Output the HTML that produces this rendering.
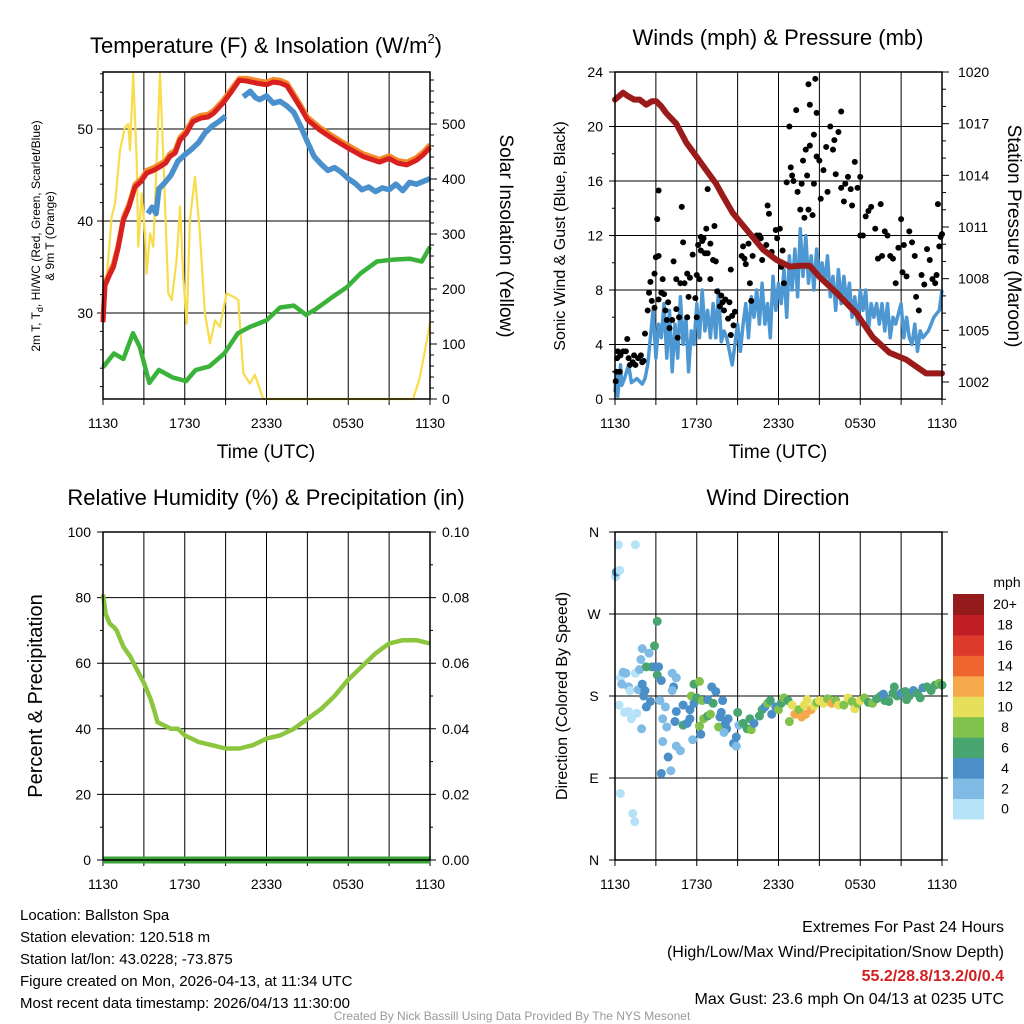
<!DOCTYPE html>
<html><head><meta charset="utf-8"><style>
html,body{margin:0;padding:0;background:#fff;}
svg{display:block;font-family:"Liberation Sans",sans-serif;}
</style></head><body>
<svg id="c" width="1024" height="1024" viewBox="0 0 1024 1024" xmlns="http://www.w3.org/2000/svg"></svg>
<script>
// ---------- DATA ----------
const xTickLabels = ["1130","1730","2330","0530","1130"];
const tempTicks = [30,40,50];
const solarTicks = [0,100,200,300,400,500];
const windTicks = [0,4,8,12,16,20,24];
const presTicks = [1002,1005,1008,1011,1014,1017,1020];
const rhTicks = [0,20,40,60,80,100];
const precTicks = ["0.00","0.02","0.04","0.06","0.08","0.10"];
const dirLabels = ["N","W","S","E","N"];
const speedBins = ["0","2","4","6","8","10","12","14","16","18","20+"];
const speedColors = ["#b5e2f7","#7fbbe4","#4a8fc7","#49a56f","#80c24b","#e6df5a","#f5a94a","#ee6530","#dd3a2b","#c01f26","#951a1c"];

const tempHours = [0,0.15,0.5,0.76,1.1,1.5,1.9,2.35,2.8,3.2,3.7,4.18,4.6,4.9,5.3,5.65,6.1,6.6,7.2,7.7,8.1,8.8,9.4,10,10.6,11.2,12,12.5,13,13.5,14,14.5,15,15.9,16.8,17.9,19.1,20.3,21,21.6,22.3,23,23.5,24];
const tempVals = [29,33,34.2,35,37,40.1,41.5,43.7,44.3,45.2,45.5,45.9,46.3,47,47.4,48.8,49.5,50.8,51.2,51.3,51.7,52.8,54,55.3,55.2,55,54.8,55.1,55,54.7,53.5,52.3,51,49.9,49,48,47,46.4,46.8,46.3,46.1,46.6,47.2,48];
const temp9mVals = [29.3,33.3,34.5,35.3,37.3,40.4,41.8,44,44.6,45.5,45.8,46.2,46.6,47.3,47.7,49.1,49.8,51.1,51.5,51.6,52,53.1,54.3,55.5,55.5,55.3,55.1,55.4,55.3,55,53.8,52.6,51.3,50.2,49.3,48.3,47.3,46.7,47.1,46.6,46.4,46.9,47.5,48.3];
const hiHours = [3.3,3.6,3.9,4.1,4.5,5,5.5,6,6.5,7,7.5,8,8.5,9];
const hiVals = [40.8,41.5,40.8,43.5,44.1,45,46.5,47.2,47.8,48.5,49.6,50.3,50.8,51.4];
const hi2Hours = [10.3,10.8,11.2,11.5,12,12.5,13,13.5,14,14.5,15,15.5,16,16.5,17,17.5,18,18.5,19,19.5,20,20.5,21,21.5,22,22.5,23,23.5,24];
const hi2Vals = [53.5,54.1,53.4,53.2,53.6,52.8,53,52.5,51.8,50.3,48.6,47,46.2,45.5,45.8,45.3,44.6,44.1,43.4,43.7,43.2,43.6,43.4,44,43.3,44.2,44,44.3,44.6];
const tdHours = [0,0.8,1.5,2.2,2.7,3.4,4.1,5.1,6.1,6.8,7.8,8.9,9.9,10.8,12,13,14,14.9,15.6,16.8,17.9,18.9,20.1,21.3,22.5,23.4,24];
const tdVals = [24.1,25.6,25,27.8,26.3,22.4,23.8,23,22.6,23.8,24.2,25.6,27.8,28.5,29.2,30.6,30.8,29.8,30.4,31.7,32.8,34.3,35.6,35.8,35.9,35.6,37.2];
const solHours = [0,0.27,0.64,0.88,1.25,1.61,1.86,1.98,2.22,2.47,2.59,2.84,3.08,3.2,3.45,3.69,4.18,4.43,4.79,5.04,5.4,5.65,5.89,6.14,6.38,6.75,7.11,7.48,7.85,8.22,8.58,9.07,9.56,9.93,10.3,10.78,11.15,11.76,22.76,23.25,23.86,24];
const solVals = [192,222,331,355,452,494,500,452,592,434,277,374,301,228,301,277,592,434,192,180,253,350,222,137,325,404,301,156,101,143,131,192,186,180,47,28,44,0,0,39,119,140];

const windHours = [0,0.1,0.2,0.4,0.5,0.7,1,1.2,1.6,2,2.2,2.4,2.6,2.8,3,3.2,3.4,3.6,3.8,4,4.2,4.4,4.6,4.8,5,5.2,5.4,5.6,5.8,6,6.2,6.4,6.6,6.8,7,7.2,7.4,7.6,7.8,8,8.2,8.6,8.8,9,9.2,9.4,9.6,9.8,10,10.2,10.4,10.6,10.8,11,11.2,11.4,11.6,11.8,12,12.2,12.4,12.6,12.8,13,13.2,13.4,13.6,13.8,14,14.2,14.4,14.6,14.8,15,15.2,15.4,15.6,15.8,16,16.2,16.4,16.6,16.8,17,17.2,17.4,17.6,17.8,18,18.2,18.4,18.6,18.8,19,19.2,19.4,19.6,19.8,20,20.2,20.4,20.6,21,21.2,21.4,21.6,21.8,22,22.2,22.4,22.6,23,23.4,23.8,24];
const windVals = [0.5,2,0.2,2.5,1,1.5,2.5,1.2,1.5,1.1,1.5,2.5,4.5,6.5,3,5.5,4.5,7,3,6.5,2,5.5,3,7.5,4,6,2,5,4,7,4.5,8,5,6.5,4.5,7,4.5,8,4.2,5,4.5,2.5,4,5.5,3.5,5.5,7,4.5,7.5,6,8,5.5,8.5,5.5,7,4.5,9,6.5,8.5,7,9.5,6,10.5,8,11,7.5,12.5,9,12,8.5,10.5,8,11,9,10,8.5,10.5,7.5,9,6.5,9.5,7,9,7,8.5,6,7.5,5.5,8,6.5,8,5,7,6,7,5.5,7,5,7,4.5,6,5.5,7,4.5,6,4.5,4,5.5,3.5,5,4.5,5,6,6.5,8];
const gustHours = [0.05,0.1,0.15,0.2,0.35,0.4,0.6,0.8,0.9,1,1.1,1.3,1.4,1.5,1.7,1.9,2,2.1,2.2,2.4,2.5,2.6,2.7,2.9,2.9,3,3.2,3.2,3.1,3.2,3.4,3.5,3.6,3.7,3.8,3.9,4,4.2,4.3,4.5,4.6,4.5,4.7,4.8,4.9,5,5.1,5.3,5.4,5.5,5.3,5.7,5.9,6,6,6.1,6.2,6.3,6.3,6.4,6.5,6.6,6.7,6.8,6.8,7,7,7.2,7.3,7.4,7.5,7.7,7.8,7.9,8,8.1,8.3,8.4,8.5,8.6,8.7,8.8,8.5,9.3,9.4,9.5,9.6,9.8,9.9,10,10.1,10.3,10.4,10.6,10.7,10.8,11.1,11.2,11.3,11.5,11.8,11.9,12.1,12.2,12.3,12.4,12.6,12.8,12.9,13,13.1,13.4,13.3,13.6,13.7,13.8,13.9,14,14.1,14.2,14.2,14.3,14.3,14.5,14.6,14.8,14.7,14.6,14.8,15,15.1,15.3,15.5,15.6,15.8,16,16.1,16.2,16.4,16.6,16.8,16.6,16.9,17.1,17.3,17.4,17.6,17.8,18,18,18.2,18.4,18.6,18.8,19.1,19.3,19.5,19.6,19.8,20,20.2,20.4,20.6,20.8,21,21.1,21.2,21.4,21.6,21.8,22,22.1,22.3,22.5,22.7,22.9,23.1,23.3,23.5,23.6,23.7,23.8,23.9,24];
const gustVals = [1.3,2,3,3.5,2,3.2,3.5,3.5,4.4,3,2.5,2.7,3.2,2.5,3,3.2,2.7,2.8,4.8,6.5,7.8,8.6,7.2,6.7,9.2,10.4,10.5,7.3,13.2,15.3,7.8,8.8,7.7,6.5,5.8,7.1,5.2,5.8,10.1,8.8,4.5,6.6,6,8.5,14.1,11.5,8.5,9.2,7.5,8.9,6,10.6,7.4,6,9.1,11.3,8.8,11.9,10.9,11.6,11.8,10.7,12.5,10.7,15.4,11.4,8.8,10.2,12.7,10.1,7.9,6.8,7.6,7.1,6.5,7.3,5.9,7.1,4.7,6.1,5.4,6.4,9.5,10.5,11.2,10.3,9.9,11.4,8.5,7.2,10.5,11.8,12,12,11.8,10.2,11.3,14.2,13.6,10.8,12.4,11.8,12.5,9.7,10.9,8.5,15.9,20,17,16.4,16,15.2,21.2,13.9,15.8,17.5,13.3,18.3,16.4,13.9,23.1,18.6,21.6,13.5,15.8,17.8,23.5,19.4,21,17.5,14.7,16.8,18.5,15.2,20,18.3,19,16.5,19.6,15.5,14.5,21.1,15.8,16.3,15.4,14.2,17.4,15.5,16.3,12,12,13.4,13.8,14.1,12.5,10.3,14.3,10.5,12.3,12,10.5,10.3,8.5,11.1,13.2,9.3,11.3,9,12.3,11.5,10.5,7.5,6.5,9.1,8.4,11,10.2,8.8,8.5,9.1,14.3,11.2,11.9,12.1];
const presHours = [0,0.3,0.59,0.95,1.4,1.81,2.3,2.7,3.03,3.4,3.77,4.5,5.23,5.97,6.7,7.43,7.92,8.65,9.39,10.12,10.85,11.83,12.81,13.6,14.28,15.01,16.23,17.7,18.92,20.15,21.37,22.1,22.83,24];
const presVals = [1018.4,1018.6,1018.8,1018.6,1018.4,1018.4,1018.1,1018.3,1018.3,1018,1017.6,1017,1015.9,1015.1,1014.3,1013.5,1012.8,1011.8,1011.1,1010.4,1009.7,1009.1,1008.7,1008.75,1008.75,1008.1,1007.2,1006,1004.6,1003.7,1003.3,1002.9,1002.5,1002.5];

const rhHours = [0,0.1,0.2,0.5,0.8,1,1.2,1.5,2,2.5,3,3.5,3.8,4,4.5,5,5.5,6,7,8,9,10,11,12,13,14,15,16,17,18,19,20,21,22,23,24];
const rhVals = [81,78,75,72,71,70,68,65,62,58,54,49,45,42,41,40,40,38,36,35,34,34,35,37,38,40,43,46,50,55,59,63,66,67,67,66];
const precHours = [0,24];
const precVals = [0,0];

const dirHours = [0.05,0.1,0.25,0.35,1.5,0.4,1.3,1.45,0.4,0.5,0.6,0.8,1.0,0.3,0.7,1.0,1.2,1.1,1.6,1.5,1.8,1.9,2.0,1.7,2.1,2.2,2.3,2.0,2.6,2.7,2.9,2.9,3.1,3.1,2.5,2.3,1.95,3.2,3.4,3.7,3.3,3.5,3.8,3.9,4.2,4.3,4.2,4.5,3.5,4.5,4.8,3.4,4.1,4.4,4.5,5.0,5.0,5.3,5.5,5.5,5.6,5.8,5.8,6.0,6.2,6.2,6.4,6.5,6.8,6.8,6.3,5.7,7.1,7.4,7.0,7.2,7.7,7.6,7.8,7.9,8.1,8.2,8.0,8.7,8.9,8.9,8.3,9.1,9.0,9.4,9.7,10.0,9.9,10.2,10.6,10.8,11.0,11.2,11.4,11.5,11.8,12.0,12.2,12.4,12.7,13.0,13.2,12.8,13.5,13.7,13.9,14.1,14.0,14.4,14.6,14.8,15.0,15.3,15.6,15.9,16.2,16.4,16.8,17.1,17.4,17.6,17.8,18.0,18.3,18.6,18.9,19.2,19.5,19.8,20.1,20.4,20.7,21.0,21.3,21.6,21.9,22.2,22.6,22.9,23.2,23.5,23.8,24.0,22.4,21.4,20.5,19.7];
const dirVals = [311,316,346,318,346,73,51,42,200,193,206,205,190,170,162,163,155,186,161,205,209,220,232,187,180,186,168,193,174,212,212,235,203,262,227,212,144,212,197,168,175,155,146,113,205,190,186,200,130,125,120,95,98,152,163,170,148,150,155,165,180,172,193,178,147,196,175,155,158,176,138,132,190,185,160,172,157,146,162,175,150,144,140,128,135,125,155,148,162,150,144,143,155,150,158,165,168,172,175,160,168,165,172,178,175,170,160,152,165,157,170,176,160,165,169,173,175,172,177,172,175,170,170,178,174,166,172,175,178,173,172,177,180,175,174,183,180,183,185,180,186,183,189,190,186,192,194,192,178,176,190,182];
const dirSpeeds = [1,5,1,1,1,1,1,1,1,3,3,3,3,1,1,1,1,1,1,1,3,3,3,3,5,5,5,5,5,7,5,7,7,7,3,7,3,5,5,3,3,3,3,5,3,5,3,3,3,3,3,5,3,5,5,5,7,5,5,5,9,5,7,7,9,9,9,9,7,5,5,3,5,5,9,7,5,9,5,5,5,5,3,5,5,3,5,3,7,7,7,9,7,5,7,7,5,9,7,5,5,9,7,9,7,11,13,9,9,13,11,11,13,13,11,9,11,11,9,13,9,11,9,11,9,11,9,11,9,7,9,7,7,7,7,7,7,5,7,7,5,7,5,7,7,7,9,7,7,7,7,5];

// ---------- helpers ----------
const svg = document.getElementById('c');
const NS = 'http://www.w3.org/2000/svg';
function mk(tag, attrs, parent, text){
  const e = document.createElementNS(NS, tag);
  for (const k in attrs) e.setAttribute(k, attrs[k]);
  if (text !== undefined) e.textContent = text;
  (parent || svg).appendChild(e);
  return e;
}
function lin(d0,d1,r0,r1){ return v => r0 + (v-d0)*(r1-r0)/(d1-d0); }
function pathFrom(xs, ys, sx, sy){
  return xs.map((h,i)=>(i?'L':'M')+sx(h).toFixed(1)+','+sy(ys[i]).toFixed(1)).join('');
}

function panel(L,R,T,B,name){
  const g = mk('g',{});
  
  
  const sx = lin(0,24,L,R);
  for (let h=3; h<24; h+=3){
    const gl = mk('line',{x1:sx(h),x2:sx(h),y1:T,y2:B,stroke:'#000','stroke-width':1},g);
    
    
  }
  for (let i=0;i<=8;i++){
    mk('line',{x1:sx(i*3),x2:sx(i*3),y1:B,y2:B+6,stroke:'#000','stroke-width':1},g);
  }
  xTickLabels.forEach((t,i)=>{
    const tx = mk('text',{x:sx(i*6),y:B+29,'font-size':14,'text-anchor':'middle'},g,t);
    
    
  });
  return {g,sx};
}
function frame(L,R,T,B,g){
  const f = mk('rect',{x:L,y:T,width:R-L,height:B-T,fill:'none',stroke:'#000','stroke-width':1.5},g);
  
  
}
function text(x,y,s,size,attrs,name){
  const a = Object.assign({x:x,y:y,'font-size':size},attrs||{});
  const t = mk('text',a,svg,s);
  
  
  return t;
}

// ---------- Panel 1: temperature ----------
(function(){
  const L=103,R=430,T=72,B=399;
  const {g,sx} = panel(L,R,T,B,'temperature-panel');
  const sy = lin(50,40,129,221);
  const sr = lin(0,500,399,124);
  tempTicks.forEach(v=>{
    mk('line',{x1:L-6,x2:R,y1:sy(v),y2:sy(v),stroke:'#000','stroke-width':1},g);
    text(L-10,sy(v)+5,String(v),14,{'text-anchor':'end'},'y-tick-label');
  });
  for (let v=22; v<=56; v+=2) mk('line',{x1:L-3,x2:L,y1:sy(v),y2:sy(v),stroke:'#000'},g);
  solarTicks.forEach(v=>{
    mk('line',{x1:R,x2:R+7,y1:sr(v),y2:sr(v),stroke:'#000'},g);
    text(R+12,sr(v)+5,String(v),14,{},'right-tick-label');
  });
  for (let v=20; v<=580; v+=20) if (v%100) mk('line',{x1:R,x2:R+4,y1:sr(v),y2:sr(v),stroke:'#000'},g);
  const sol = mk('path',{d:pathFrom(solHours,solVals,sx,sr),fill:'none',stroke:'#f8dc4a','stroke-width':2.2,'stroke-linejoin':'round'},g);
  
  
  const td = mk('path',{d:pathFrom(tdHours,tdVals,sx,sy),fill:'none',stroke:'#3bb33b','stroke-width':4.5,'stroke-linejoin':'round'},g);
  
  
  [[hiHours,hiVals],[hi2Hours,hi2Vals]].forEach(p=>{
    const hi = mk('path',{d:pathFrom(p[0],p[1],sx,sy),fill:'none',stroke:'#4a90cc','stroke-width':5.5,'stroke-linejoin':'round'},g);
    
    
  });
  const t9 = mk('path',{d:pathFrom(tempHours,temp9mVals,sx,sy),fill:'none',stroke:'#f58a2a','stroke-width':5,'stroke-linejoin':'round'},g);
  
  
  const t2 = mk('path',{d:pathFrom(tempHours,tempVals,sx,sy),fill:'none',stroke:'#d7201f','stroke-width':5,'stroke-linejoin':'round'},g);
  
  
  frame(L,R,T,B,g);
})();
text(266,53,'',22,{'text-anchor':'middle'},'temperature-title').innerHTML='Temperature (F) &amp; Insolation (W/m<tspan font-size="13" dy="-10">2</tspan><tspan dy="10">)</tspan>';
text(0,0,'',12,{transform:'translate(40,236) rotate(-90)','text-anchor':'middle'},'temperature-y-title-line1').innerHTML='2m T, T<tspan font-size="9" dy="3">d</tspan><tspan dy="-3">, HI/WC (Red, Green, Scarlet/Blue)</tspan>';
text(0,0,'& 9m T (Orange)',12,{transform:'translate(54,236) rotate(-90)','text-anchor':'middle'},'temperature-y-title-line2');
text(0,0,'Solar Insolation (Yellow)',19,{transform:'translate(500,236) rotate(90)','text-anchor':'middle'},'solar-y-title');
text(266,458,'Time (UTC)',19,{'text-anchor':'middle'},'x-axis-title');

// ---------- Panel 2: winds ----------
(function(){
  const L=615,R=942,T=72,B=399;
  const {g,sx} = panel(L,R,T,B,'winds-panel');
  const sy = lin(0,24,B,T);
  const sp = lin(1002,1020,382,72);
  windTicks.forEach(v=>{
    mk('line',{x1:L-6,x2:R,y1:sy(v),y2:sy(v),stroke:'#000','stroke-width':1},g);
    text(L-12,sy(v)+5,String(v),14,{'text-anchor':'end'},'y-tick-label');
  });
  for (let v=2; v<24; v+=4) mk('line',{x1:L-3,x2:L,y1:sy(v),y2:sy(v),stroke:'#000'},g);
  for (let v=1001; v<=1020; v++){
    const maj = presTicks.indexOf(v)>=0;
    mk('line',{x1:R,x2:R+(maj?7:4),y1:sp(v),y2:sp(v),stroke:'#000'},g);
  }
  presTicks.forEach(v=> text(R+16,sp(v)+5,String(v),14,{},'right-tick-label'));
  const wl = mk('path',{d:pathFrom(windHours,windVals,sx,sy),fill:'none',stroke:'#4d97d3','stroke-width':3.5,'stroke-linejoin':'round'},g);
  
  
  gustHours.forEach((h,i)=>{
    const c = mk('circle',{cx:sx(h),cy:sy(gustVals[i]),r:3,fill:'#000'},g);
    
    
  });
  const pl = mk('path',{d:pathFrom(presHours,presVals,sx,sp),fill:'none',stroke:'#9b1b1b','stroke-width':6,'stroke-linejoin':'round','stroke-linecap':'round'},g);
  
  
  frame(L,R,T,B,g);
})();
text(778,45,'Winds (mph) & Pressure (mb)',22,{'text-anchor':'middle'},'winds-title');
text(0,0,'Sonic Wind & Gust (Blue, Black)',16,{transform:'translate(565,236) rotate(-90)','text-anchor':'middle'},'wind-y-title');
text(0,0,'Station Pressure (Maroon)',19,{transform:'translate(1008,236) rotate(90)','text-anchor':'middle'},'pressure-y-title');
text(778,458,'Time (UTC)',19,{'text-anchor':'middle'},'x-axis-title');

// ---------- Panel 3: RH ----------
(function(){
  const L=103,R=430,T=532,B=860;
  const {g,sx} = panel(L,R,T,B,'humidity-panel');
  const sy = lin(0,100,B,T);
  rhTicks.forEach((v,i)=>{
    mk('line',{x1:L-6,x2:R+6,y1:sy(v),y2:sy(v),stroke:'#000','stroke-width':1},g);
    text(L-12,sy(v)+5,String(v),14,{'text-anchor':'end'},'y-tick-label');
    text(R+12,sy(v)+5,precTicks[i],14,{},'right-tick-label');
  });
  for (let v=10; v<100; v+=20){
    mk('line',{x1:L-3,x2:L,y1:sy(v),y2:sy(v),stroke:'#000'},g);
    mk('line',{x1:R,x2:R+3,y1:sy(v),y2:sy(v),stroke:'#000'},g);
  }
  const sp = lin(0,0.1,B,T);
  const pr = mk('path',{d:pathFrom(precHours,precVals,sx,sp),fill:'none',stroke:'#3aa33a','stroke-width':7},g);
  
  
  const rl = mk('path',{d:pathFrom(rhHours,rhVals,sx,sy),fill:'none',stroke:'#8cc63f','stroke-width':4.5,'stroke-linejoin':'round'},g);
  
  
  frame(L,R,T,B,g);
})();
text(266,505,'Relative Humidity (%) & Precipitation (in)',22,{'text-anchor':'middle'},'humidity-title');
text(0,0,'Percent & Precipitation',20,{transform:'translate(42,696) rotate(-90)','text-anchor':'middle'},'humidity-y-title');

// ---------- Panel 4: wind direction ----------
(function(){
  const L=615,R=942,T=532,B=860;
  const {g,sx} = panel(L,R,T,B,'wind-direction-panel');
  const sy = lin(360,0,T,B);
  dirLabels.forEach((s,i)=>{
    const v = 360 - i*90;
    mk('line',{x1:L-6,x2:R+6,y1:sy(v),y2:sy(v),stroke:'#000','stroke-width':1},g);
    text(L-21,sy(v)+5,s,14,{'text-anchor':'middle'},'direction-tick-label');
  });
  dirHours.forEach((h,i)=>{
    const bin = Math.min(10, Math.floor(dirSpeeds[i]/2));
    const c = mk('circle',{cx:sx(h),cy:sy(dirVals[i]),r:4.5,fill:speedColors[bin]},g);
    
    
  });
  frame(L,R,T,B,g);
  const cb = mk('g',{},svg);
  
  
  const top=594, bh=20.45;
  speedBins.forEach((s,i)=>{
    const j = 10-i;
    mk('rect',{x:953,y:top+j*bh,width:31,height:bh+0.5,fill:speedColors[i]},cb);
    const t = mk('text',{x:1005,y:top+j*bh+bh/2+5,'font-size':14,'text-anchor':'middle'},cb,s);
    
    
  });
  const u = mk('text',{x:1007,y:587,'font-size':14,'text-anchor':'middle'},cb,'mph');
  
  
})();
text(778,505,'Wind Direction',22,{'text-anchor':'middle'},'wind-direction-title');
text(0,0,'Direction (Colored By Speed)',16,{transform:'translate(567,696) rotate(-90)','text-anchor':'middle'},'direction-y-title');

// ---------- Footer ----------
['Location: Ballston Spa','Station elevation: 120.518 m','Station lat/lon: 43.0228; -73.875','Figure created on Mon, 2026-04-13, at 11:34 UTC','Most recent data timestamp: 2026/04/13 11:30:00'].forEach((s,i)=>{
  text(20,920+i*22,s,15,{},'station-info-line');
});
text(1004,932,'Extremes For Past 24 Hours',16,{'text-anchor':'end'},'extremes-title');
text(1004,957,'(High/Low/Max Wind/Precipitation/Snow Depth)',16,{'text-anchor':'end'},'extremes-subtitle');
text(1004,981,'55.2/28.8/13.2/0/0.4',16,{'text-anchor':'end',fill:'#d22020','font-weight':'bold'},'extremes-values');
text(1004,1004,'Max Gust: 23.6 mph On 04/13 at 0235 UTC',16,{'text-anchor':'end'},'max-gust');
text(512,1020,'Created By Nick Bassill Using Data Provided By The NYS Mesonet',12,{'text-anchor':'middle',fill:'#999'},'credit');
</script>
</body></html>
